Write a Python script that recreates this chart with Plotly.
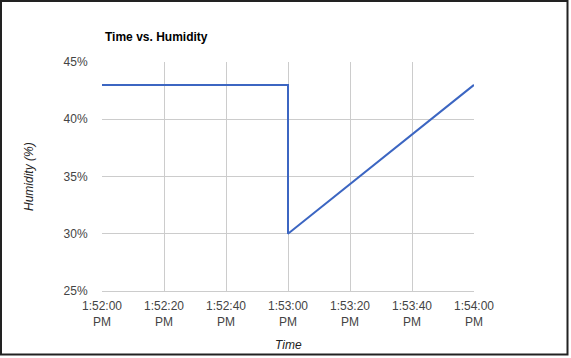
import plotly.graph_objects as go

times = ["2024-01-01 13:52:00", "2024-01-01 13:53:00", "2024-01-01 13:53:00", "2024-01-01 13:54:00"]
humidity = [43, 43, 30, 43]

tick_vals = ["2024-01-01 13:52:00", "2024-01-01 13:52:20", "2024-01-01 13:52:40",
             "2024-01-01 13:53:00", "2024-01-01 13:53:20", "2024-01-01 13:53:40",
             "2024-01-01 13:54:00"]
tick_text = ["1:52:00<br>PM", "1:52:20<br>PM", "1:52:40<br>PM", "1:53:00<br>PM",
             "1:53:20<br>PM", "1:53:40<br>PM", "1:54:00<br>PM"]
y_ticks = [25, 30, 35, 40, 45]
y_tick_text = ["25%", "30%", "35%", "40%", "45%"]

W, H = 571, 358
L, R, T, B = 102, 97, 62, 67
pw, ph = W - L - R, H - T - B

fig = go.Figure()
fig.add_trace(go.Scatter(x=times, y=humidity, mode="lines",
                         line=dict(color="#3c66c2", width=2), showlegend=False,
                         hoverinfo="skip"))

def px_x(p):
    return (p - L) / pw

def px_y(p):
    return (H - B - p) / ph

fig.add_shape(type="rect", xref="paper", yref="paper",
              x0=px_x(1), x1=px_x(567.5), y0=px_y(354.5), y1=px_y(1),
              line=dict(color="#222222", width=2), fillcolor="rgba(0,0,0,0)")

fig.add_annotation(text="<i>Time</i>", xref="paper", yref="paper",
                   x=px_x(288), y=px_y(345), showarrow=False,
                   xanchor="center", yanchor="middle",
                   font=dict(size=12, color="#222222"))
fig.add_annotation(text="<i>Humidity (%)</i>", xref="paper", yref="paper",
                   x=px_x(29), y=px_y(177), showarrow=False, textangle=-90,
                   xanchor="center", yanchor="middle",
                   font=dict(size=12, color="#222222"))
fig.add_annotation(text="<b>Time vs. Humidity</b>", xref="paper", yref="paper",
                   x=px_x(103), y=px_y(37), showarrow=False,
                   xanchor="left", yanchor="middle",
                   font=dict(size=12, color="#000000"))

fig.update_layout(
    width=W, height=H,
    margin=dict(l=L, r=R, t=T, b=B, autoexpand=False),
    paper_bgcolor="white", plot_bgcolor="white",
    font=dict(family="Liberation Sans, Arial", size=12, color="#444444"),
    xaxis=dict(range=[tick_vals[0], tick_vals[-1]], tickvals=tick_vals, ticktext=tick_text,
               showgrid=True, gridcolor="#cccccc", gridwidth=1, zeroline=False,
               showline=True, linecolor="#cccccc", ticks="outside", ticklen=4,
               tickcolor="rgba(0,0,0,0)", automargin=False,
               tickfont=dict(size=12, color="#444444")),
    yaxis=dict(range=[25, 45], tickvals=y_ticks, ticktext=y_tick_text,
               showgrid=True, gridcolor="#cccccc", gridwidth=1, zeroline=False,
               showline=False, ticks="outside", ticklen=11, tickcolor="rgba(0,0,0,0)",
               automargin=False, tickfont=dict(size=12, color="#444444")),
)

fig.write_html("out.html", config={"displayModeBar": False},
               post_script="document.body.style.margin='0';document.body.style.padding='0';document.body.style.overflow='hidden';")
